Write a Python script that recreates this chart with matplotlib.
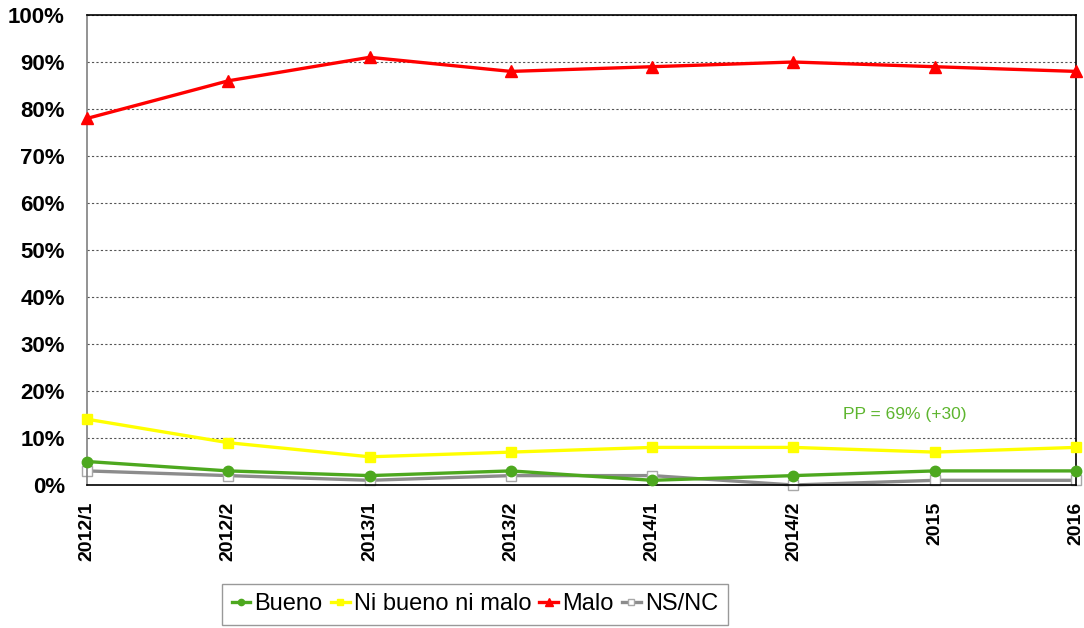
import matplotlib
matplotlib.use("Agg")
import matplotlib.pyplot as plt
from matplotlib.ticker import FuncFormatter

plt.rcParams['font.family'] = ['Liberation Sans', 'DejaVu Sans']

periods = ['2012/1', '2012/2', '2013/1', '2013/2', '2014/1', '2014/2', '2015', '2016']
bueno = [5, 3, 2, 3, 1, 2, 3, 3]
ni_bueno = [14, 9, 6, 7, 8, 8, 7, 8]
malo = [78, 86, 91, 88, 89, 90, 89, 88]
nsnc = [3, 2, 1, 2, 2, 0, 1, 1]

fig = plt.figure(figsize=(10.84, 6.28), dpi=100)
ax = fig.add_axes([0.0803, 0.2277, 0.9123, 0.7484])

x = list(range(len(periods)))
lw = 2.4
ax.plot(x, bueno, color='#4DA81F', lw=lw, marker='o', ms=7.5, label='Bueno', clip_on=False, zorder=4)
ax.plot(x, ni_bueno, color='#FFFF00', lw=lw, marker='s', ms=7, label='Ni bueno ni malo', clip_on=False, zorder=3)
ax.plot(x, malo, color='#FF0000', lw=lw, marker='^', ms=8.5, label='Malo', clip_on=False, zorder=3)
ax.plot(x, nsnc, color='#8C8C8C', lw=lw, marker='s', ms=7.5, mfc='white', mec='#A8A8A8', mew=1,
        label='NS/NC', clip_on=False, zorder=2)

ax.set_xlim(0, len(periods) - 1)
ax.set_ylim(0, 100)
ax.set_yticks(range(0, 101, 10))
ax.yaxis.set_major_formatter(FuncFormatter(lambda v, p: f'{int(v)}%'))
ax.set_xticks(x)
ax.set_xticklabels(periods, rotation=90, fontsize=14, fontweight='bold')
for t in ax.get_yticklabels():
    t.set_fontsize(16)
    t.set_fontweight('bold')
ax.tick_params(axis='y', length=0, pad=16)
ax.tick_params(axis='x', length=0, pad=12)

ax.grid(axis='y', color='#555555', ls=(0, (2, 2)), lw=0.8)
ax.set_axisbelow(True)
for s in ['top', 'right', 'bottom']:
    ax.spines[s].set_color('black')
    ax.spines[s].set_linewidth(1.2)
ax.spines['left'].set_color('#808080')
ax.spines['left'].set_linewidth(1.2)

ax.text(5.35, 15, 'PP = 69% (+30)', color='#5DB52E', fontsize=12.5, ha='left', va='center')

leg = fig.legend(loc='center', bbox_to_anchor=(0.438, 0.038), ncol=4, fontsize=17,
                 handlelength=0.8, handletextpad=0.17, columnspacing=0.35,
                 borderpad=0.4, borderaxespad=0, fancybox=False, edgecolor='#808080',
                 markerscale=0.6)
leg.get_frame().set_linewidth(1.0)

fig.savefig('out.png', dpi=100)
